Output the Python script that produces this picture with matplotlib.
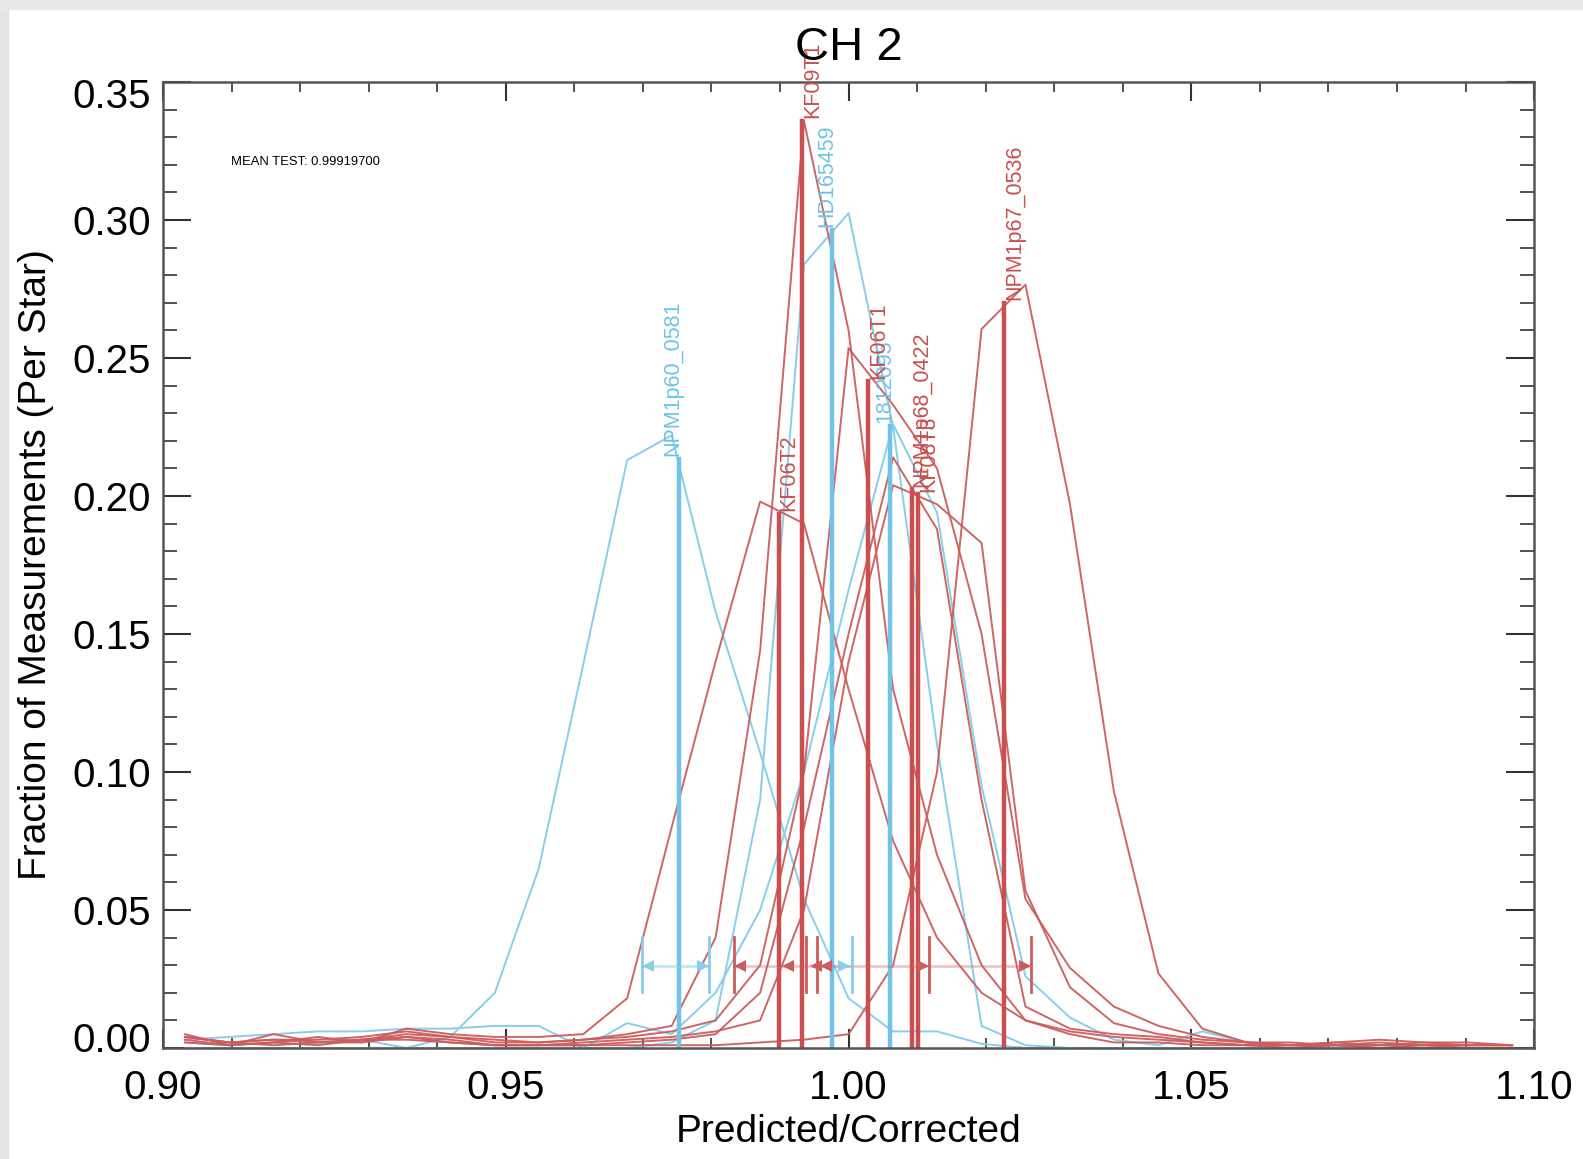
import matplotlib
matplotlib.use('Agg')
import matplotlib.pyplot as plt
from matplotlib.patches import Rectangle
from matplotlib.transforms import ScaledTranslation
from matplotlib.ticker import MultipleLocator, FixedLocator, FormatStrFormatter

plt.rcParams['font.family'] = ['Liberation Sans', 'DejaVu Sans']

# histogram bin centres (31 bins between 0.90 and 1.10)
bins = [0.9032, 0.9097, 0.9161, 0.9226, 0.9290, 0.9355, 0.9419, 0.9484, 0.9548, 0.9613,
        0.9677, 0.9742, 0.9806, 0.9871, 0.9935, 1.0000, 1.0065, 1.0129, 1.0194, 1.0258,
        1.0323, 1.0387, 1.0452, 1.0516, 1.0581, 1.0645, 1.0710, 1.0774, 1.0839, 1.0903,
        1.0968]

# blue stars
npm1p60_0581 = [0.002, 0.001, 0.002, 0.003, 0.003, 0.000, 0.004, 0.020, 0.065, 0.139,
                0.213, 0.222, 0.158, 0.107, 0.054, 0.018, 0.006, 0.006, 0.0015, 0.0,
                0.0, 0.0, 0.0, 0.0, 0.0, 0.0, 0.0, 0.0, 0.0, 0.0, 0.0]
hd165459 = [0.0, 0.0, 0.0, 0.0, 0.0, 0.0, 0.0, 0.0, 0.0, 0.0,
            0.0, 0.002, 0.010, 0.090, 0.284, 0.3025, 0.225, 0.110, 0.008, 0.001,
            0.0, 0.0, 0.0, 0.0, 0.0, 0.0, 0.0, 0.0, 0.0, 0.0, 0.0]
s1812095 = [0.003, 0.004, 0.005, 0.006, 0.006, 0.007, 0.007, 0.008, 0.008, 0.0,
            0.009, 0.005, 0.020, 0.050, 0.100, 0.166, 0.226, 0.194, 0.095, 0.026,
            0.011, 0.003, 0.001, 0.006, 0.002, 0.001, 0.0, 0.0, 0.0, 0.0, 0.0]

# red stars
kf09t1 = [0.004, 0.002, 0.001, 0.002, 0.003, 0.005, 0.004, 0.003, 0.002, 0.003,
          0.005, 0.008, 0.040, 0.144, 0.336, 0.260, 0.130, 0.070, 0.030, 0.010,
          0.005, 0.002, 0.002, 0.001, 0.001, 0.0, 0.001, 0.0, 0.001, 0.0, 0.0]
kf06t2 = [0.005, 0.001, 0.005, 0.002, 0.002, 0.007, 0.005, 0.004, 0.004, 0.005,
          0.018, 0.080, 0.140, 0.198, 0.190, 0.130, 0.075, 0.040, 0.020, 0.010,
          0.006, 0.004, 0.003, 0.002, 0.001, 0.001, 0.002, 0.003, 0.002, 0.002, 0.001]
kf06t1 = [0.004, 0.002, 0.003, 0.003, 0.004, 0.006, 0.004, 0.002, 0.002, 0.003,
          0.004, 0.006, 0.010, 0.030, 0.100, 0.2536, 0.233, 0.210, 0.150, 0.054,
          0.029, 0.015, 0.008, 0.004, 0.002, 0.002, 0.001, 0.002, 0.001, 0.001, 0.001]
npm1p68_0422 = [0.003, 0.001, 0.002, 0.004, 0.002, 0.004, 0.003, 0.001, 0.001, 0.002,
                0.003, 0.004, 0.006, 0.010, 0.050, 0.140, 0.2039, 0.197, 0.183, 0.057,
                0.022, 0.009, 0.005, 0.003, 0.002, 0.001, 0.002, 0.001, 0.002, 0.001, 0.001]
kf08t3 = [0.002, 0.001, 0.002, 0.001, 0.003, 0.003, 0.002, 0.001, 0.001, 0.001,
          0.002, 0.003, 0.005, 0.020, 0.080, 0.150, 0.214, 0.188, 0.090, 0.015,
          0.007, 0.005, 0.004, 0.002, 0.001, 0.001, 0.001, 0.001, 0.001, 0.001, 0.001]
npm1p67_0536 = [0.004, 0.002, 0.003, 0.002, 0.003, 0.004, 0.002, 0.001, 0.001, 0.001,
                0.001, 0.001, 0.001, 0.002, 0.003, 0.005, 0.030, 0.100, 0.2605, 0.2766,
                0.197, 0.093, 0.027, 0.007, 0.002, 0.001, 0.001, 0.0, 0.0, 0.0, 0.0]

blue_series = [npm1p60_0581, hd165459, s1812095]
red_series = [kf09t1, kf06t2, kf06t1, npm1p68_0422, kf08t3, npm1p67_0536]

# star means and the histogram height at the mean
blue_names = ['NPM1p60_0581', 'HD165459', '1812095']
blue_means = [0.9752, 0.9976, 1.0061]
blue_tops = [0.2134, 0.2963, 0.2255]
red_names = ['KF09T1', 'KF06T2', 'KF06T1', 'NPM1p68_0422', 'KF08T3', 'NPM1p67_0536']
red_means = [0.9932, 0.9898, 1.0029, 1.0092, 1.0102, 1.0227]
red_tops = [0.3360, 0.1935, 0.2415, 0.2024, 0.2006, 0.2700]

# spread markers along the bottom
bar_y = 0.0296
blue_spans = [(0.9699, 0.9796), (0.9950, 1.0005)]
blue_bar_ends = [0.9699, 0.9796, 1.0005]
blue_tips_left = [0.9699]
blue_tips_right = [0.9796, 1.0002]
red_spans = [(0.9833, 1.0266)]
red_bar_ends = [0.9833, 0.9938, 0.9954, 1.0117, 1.0266]
red_tips_left = [0.9833, 0.9903, 0.9943, 0.9958]
red_tips_right = [1.0117, 1.0266]

mean_test = 0.99919700

xticks = [0.90, 0.95, 1.00, 1.05, 1.10]
yticks = [0.00, 0.05, 0.10, 0.15, 0.20, 0.25, 0.30, 0.35]

RED = '#cd5c5c'
BLUE = '#87ceeb'

fig = plt.figure(figsize=(15.83, 11.59), dpi=100)
fig.patch.set_facecolor('white')
# screenshot border on the left / top
fig.add_artist(Rectangle((0, 0), 8 / 1583, 1, transform=fig.transFigure, color='#e4e4e4', zorder=-5))
fig.add_artist(Rectangle((0, 1 - 9 / 1159), 1, 9 / 1159, transform=fig.transFigure, color='#e8e8e8', zorder=-5))

ax = fig.add_axes([0.1030, 0.0958, 0.8661, 0.8334])

for ys in blue_series:
    ax.plot(bins, ys, color=BLUE, lw=1.4)
for ys in red_series:
    ax.plot(bins, ys, color=RED, lw=1.4, alpha=0.95)

# blue names sit left of their line, red names right of it
for m, t, n in zip(blue_means, blue_tops, blue_names):
    ax.plot([m, m], [0, t], color='#70c2e6', lw=3.2)
    ax.text(m, t + 0.001, n, color='#70c2e6', fontsize=15.5, rotation=90,
            rotation_mode='anchor', ha='left', va='baseline')
for m, t, n in zip(red_means, red_tops, red_names):
    ax.plot([m, m], [0, t], color='#c9504f', lw=3.2)
    ax.text(m, t + 0.001, n, color='#c9504f', fontsize=15.5, rotation=90,
            rotation_mode='anchor', ha='left', va='top')

# bottom spread bars
off = 0.0009
for lo, hi in blue_spans:
    ax.plot([lo, hi], [bar_y, bar_y], color=BLUE, lw=2, alpha=0.5)
for lo, hi in red_spans:
    ax.plot([lo, hi], [bar_y, bar_y], color=RED, lw=2, alpha=0.35)
for x in blue_bar_ends:
    ax.plot([x, x], [0.0201, 0.0402], color=BLUE, lw=2)
for x in red_bar_ends:
    ax.plot([x, x], [0.0201, 0.0402], color=RED, lw=2)
ax.plot([x + off for x in blue_tips_left], [bar_y] * len(blue_tips_left), '<', color=BLUE, ms=9, mew=0)
ax.plot([x - off for x in blue_tips_right], [bar_y] * len(blue_tips_right), '>', color=BLUE, ms=9, mew=0)
ax.plot([x + off for x in red_tips_left], [bar_y] * len(red_tips_left), '<', color=RED, ms=9, mew=0)
ax.plot([x - off for x in red_tips_right], [bar_y] * len(red_tips_right), '>', color=RED, ms=9, mew=0)

ax.text(0.9099, 0.321, 'MEAN TEST: %.8f' % mean_test, fontsize=9.4, va='center', ha='left')

ax.set_xlim(0.90, 1.10)
ax.set_ylim(0.0, 0.35)
ax.xaxis.set_major_locator(FixedLocator(xticks))
ax.xaxis.set_minor_locator(MultipleLocator(0.01))
ax.yaxis.set_major_locator(FixedLocator(yticks))
ax.yaxis.set_minor_locator(MultipleLocator(0.01))
ax.xaxis.set_major_formatter(FormatStrFormatter('%.2f'))
ax.yaxis.set_major_formatter(FormatStrFormatter('%.2f'))
ax.tick_params(axis='x', which='major', direction='in', length=14, width=1.5, top=True,
               labelsize=29, pad=15, color='#333333')
ax.tick_params(axis='x', which='minor', direction='in', length=7, width=1.2, top=True, color='#333333')
ax.tick_params(axis='y', which='major', direction='in', length=20, width=1.5, right=True,
               labelsize=29, pad=9, color='#333333')
ax.tick_params(axis='y', which='minor', direction='in', length=10, width=1.2, right=True, color='#333333')
for sp in ax.spines.values():
    sp.set_linewidth(1.8)
    sp.set_color('#555555')

ax.set_title('CH 2', fontsize=34, pad=16)
ax.set_xlabel('Predicted/Corrected', fontsize=28, labelpad=5)
ax.set_ylabel('Fraction of Measurements (Per Star)', fontsize=28, labelpad=13)

# end labels of the y axis sit a little inside the axis range
fig.canvas.draw()
for lab in ax.get_yticklabels():
    if lab.get_text() == '0.00':
        lab.set_transform(lab.get_transform() + ScaledTranslation(0, 0.11, fig.dpi_scale_trans))
    elif lab.get_text() == '0.35':
        lab.set_transform(lab.get_transform() + ScaledTranslation(0, -0.11, fig.dpi_scale_trans))

fig.savefig('out.png', dpi=100)
